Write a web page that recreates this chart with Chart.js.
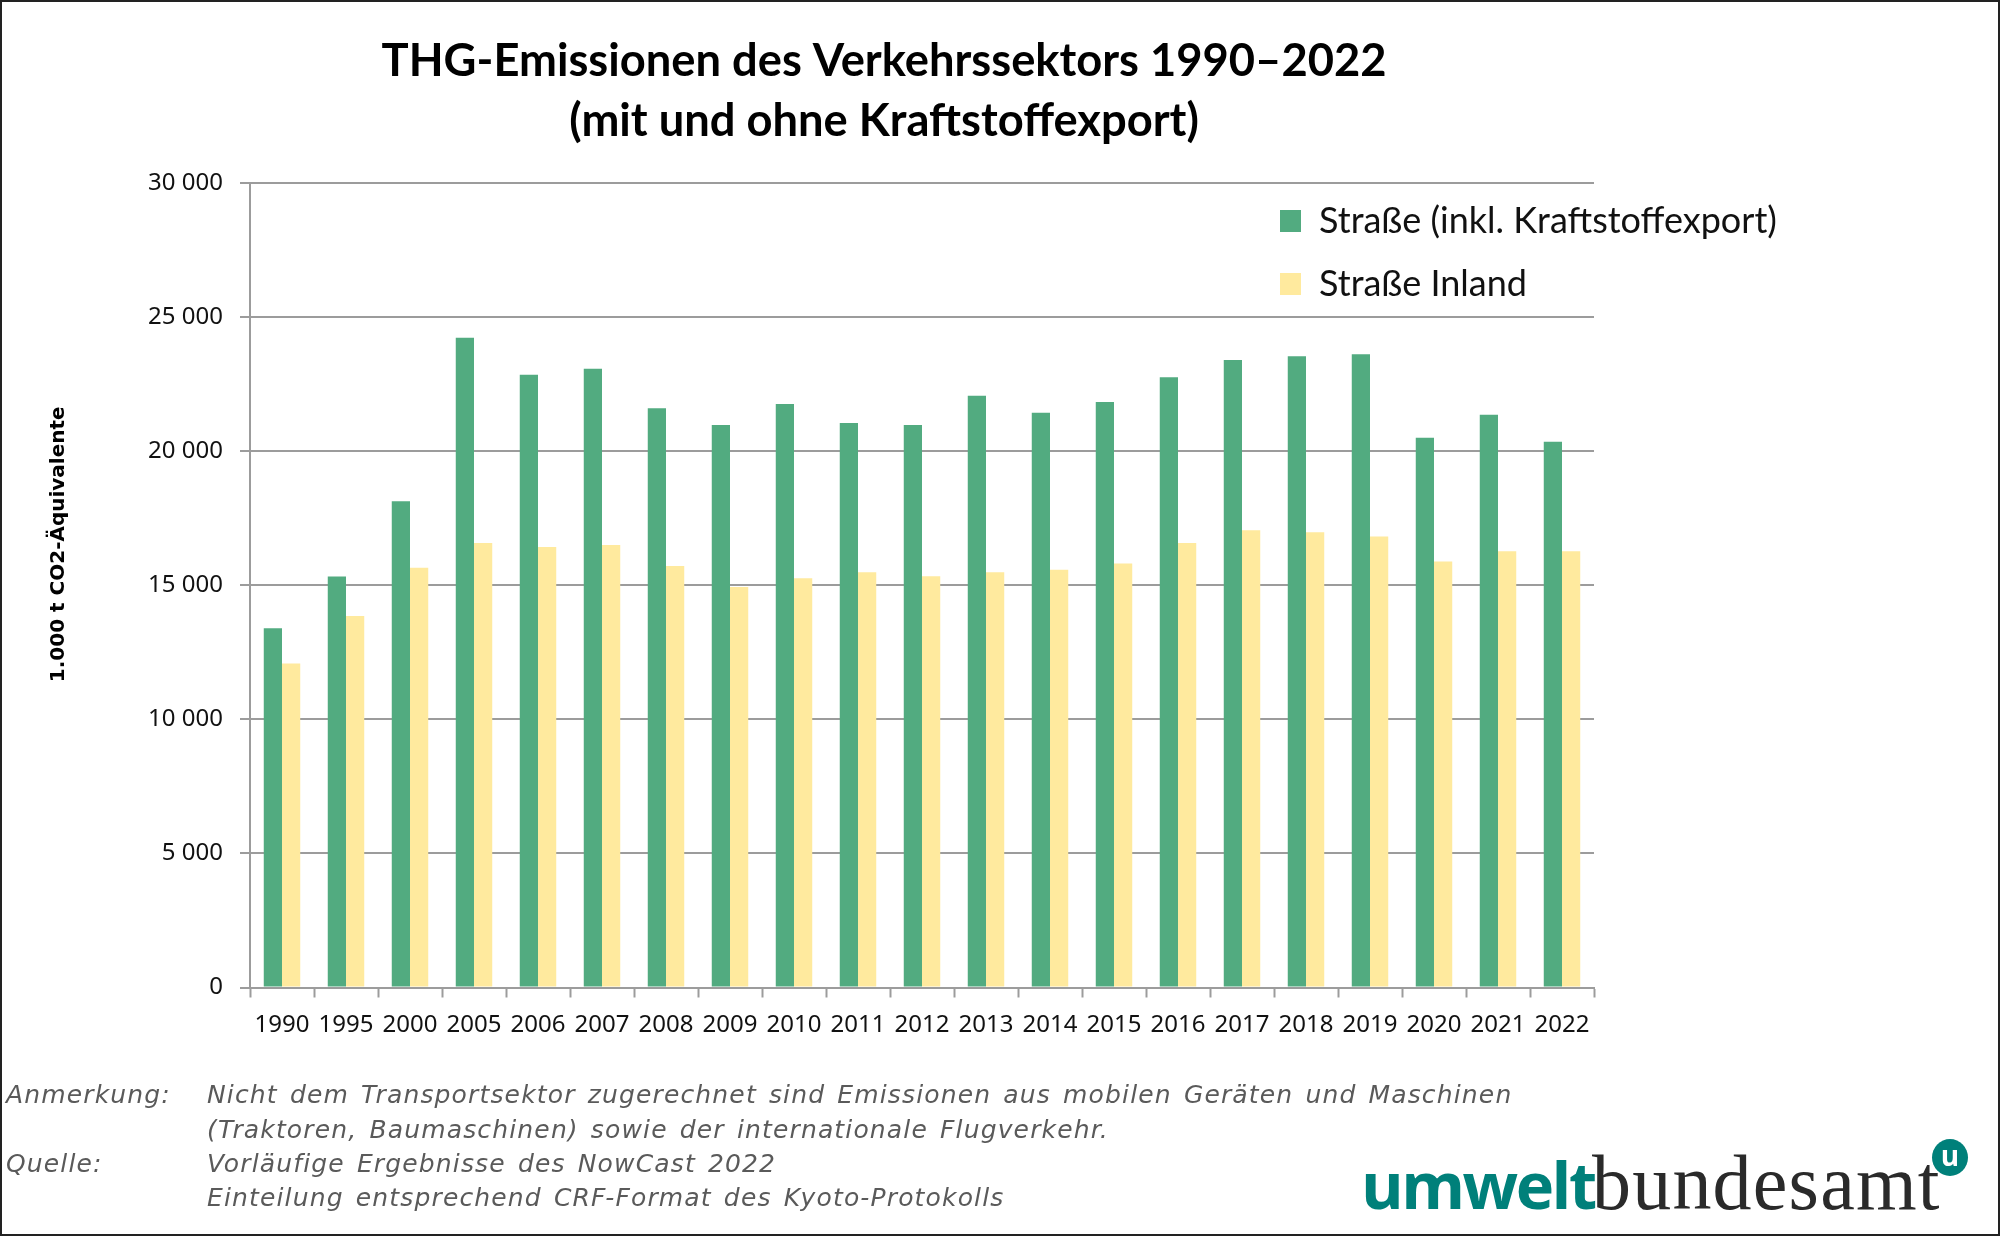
<!DOCTYPE html>
<html lang="de"><head><meta charset="utf-8">
<title>THG-Emissionen</title>
<script src="https://cdn.jsdelivr.net/npm/chart.js@4"></script>
<style>
html,body{margin:0;padding:0;background:#fff;width:2000px;height:1236px;overflow:hidden}
#wrap{position:relative;width:2000px;height:1236px;background:#fff}
canvas{position:absolute;left:0;top:0}
#frame{position:absolute;left:0;top:0;width:1996px;height:1232px;border:2px solid #222;pointer-events:none}
.note{position:absolute;font:italic 25px "DejaVu Sans",sans-serif;color:#5a5a5a;white-space:pre;line-height:30px;word-spacing:3px;letter-spacing:1.15px}
.logo{position:absolute;white-space:pre}
</style></head><body>
<div id="wrap">
<canvas id="c" width="2000" height="1236"></canvas>
<div id="frame"></div>
<div class="note" style="left:6px;top:1080px">Anmerkung:</div>
<div class="note" style="left:207px;top:1080px">Nicht dem Transportsektor zugerechnet sind Emissionen aus mobilen Geräten und Maschinen</div>
<div class="note" style="left:207px;top:1115px">(Traktoren, Baumaschinen) sowie der internationale Flugverkehr.</div>
<div class="note" style="left:6px;top:1149px">Quelle:</div>
<div class="note" style="left:207px;top:1149px">Vorläufige Ergebnisse des NowCast 2022</div>
<div class="note" style="left:207px;top:1183px">Einteilung entsprechend CRF-Format des Kyoto-Protokolls</div>
<div class="logo" style="left:1361px;top:1149px;font:bold 65px/70px 'Open Sans',sans-serif;letter-spacing:-2.5px;color:#00807a">umwelt</div>
<div class="logo" style="left:1592px;top:1148px;font:400 78px/70px 'Liberation Serif',serif;letter-spacing:1.2px;color:#2a2a2a">bundesamt</div>
<div class="logo" style="left:1932px;top:1139px;width:36px;height:37px;border-radius:50%;font:bold 28px/32px 'Open Sans',sans-serif;color:#fff;text-align:center;background:#00807a">u</div>
</div>
<script>
const categories=['1990','1995','2000','2005','2006','2007','2008','2009','2010','2011','2012','2013','2014','2015','2016','2017','2018','2019','2020','2021','2022'];
const strasseExport=[13400,15325,18130,24230,22850,23070,21600,20975,21760,21050,20975,22070,21430,21830,22760,23400,23545,23620,20500,21360,20355];
const strasseInland=[12080,13850,15650,16580,16430,16500,15720,14940,15265,15490,15340,15490,15575,15810,16580,17050,16980,16820,15890,16270,16270];
const seriesNames=['Straße (inkl. Kraftstoffexport)','Straße Inland'];
const titleLines=['THG-Emissionen des Verkehrssektors 1990–2022','(mit und ohne Kraftstoffexport)'];
const yAxisTitle='1.000 t CO2-Äquivalente';
const placeBoxes={id:'placeBoxes',afterLayout(chart){
  const t=chart.titleBlock;t.left=0;t.right=1768;
  const l=chart.legend;const w=l.width,h=l.height;
  l.left=1253;l.right=1253+w;l.top=176;l.bottom=176+h;
  if(l.adjustHitBoxes)l.adjustHitBoxes();
  const y=chart.scales.y;
  if(!y._titleShifted){
    const draw=y.drawTitle;
    y.drawTitle=function(){const a=this.top,b=this.bottom;this.top=a-41;this.bottom=b-41;draw.call(this);this.top=a;this.bottom=b;};
    y._titleShifted=true;
  }
}};
Chart.defaults.animation=false;
new Chart(document.getElementById('c'),{
 type:'bar',
 data:{labels:categories,datasets:[
  {label:seriesNames[0],data:strasseExport,backgroundColor:'#52AB80',categoryPercentage:0.57,barPercentage:1},
  {label:seriesNames[1],data:strasseInland,backgroundColor:'#FFEA9E',categoryPercentage:0.57,barPercentage:1}]},
 plugins:[placeBoxes],
 options:{responsive:false,devicePixelRatio:1,animation:false,
  layout:{padding:{left:0,right:406,top:0,bottom:0}},
  plugins:{
   tooltip:{enabled:false},
   title:{display:true,text:titleLines,color:'#000',font:{family:'Lato',size:45.3,weight:'bold',lineHeight:1.325},padding:{top:31,bottom:32}},
   legend:{position:'chartArea',align:'start',labels:{boxWidth:21,boxHeight:22,padding:27,color:'#111',font:{family:'Lato',size:36}}}
  },
  scales:{
   x:{offset:true,border:{color:'#9c9c9c',width:2},
      grid:{display:true,drawOnChartArea:false,drawTicks:true,tickLength:10,tickWidth:2,tickColor:'#9c9c9c',offset:true},
      ticks:{maxRotation:0,autoSkip:false,color:'#111',padding:13,font:{family:'Noto Sans',size:24}},
      afterFit(s){s.height=248.5}},
   y:{min:0,max:30000,border:{color:'#9c9c9c',width:2},
      grid:{color:'#9c9c9c',lineWidth:2,tickLength:10,tickColor:'#9c9c9c',tickWidth:2},
      ticks:{stepSize:5000,color:'#111',padding:17,font:{family:'Noto Sans',size:24},
        callback:v=>String(v).replace(/\B(?=(\d{3})+$)/g,' ')},
      title:{display:true,text:yAxisTitle,color:'#000',padding:{top:47,bottom:0},font:{family:'DejaVu Sans',size:20,weight:'bold'}},
      afterFit(s){s.width=250}}
  }}
});
</script>
</body></html>
